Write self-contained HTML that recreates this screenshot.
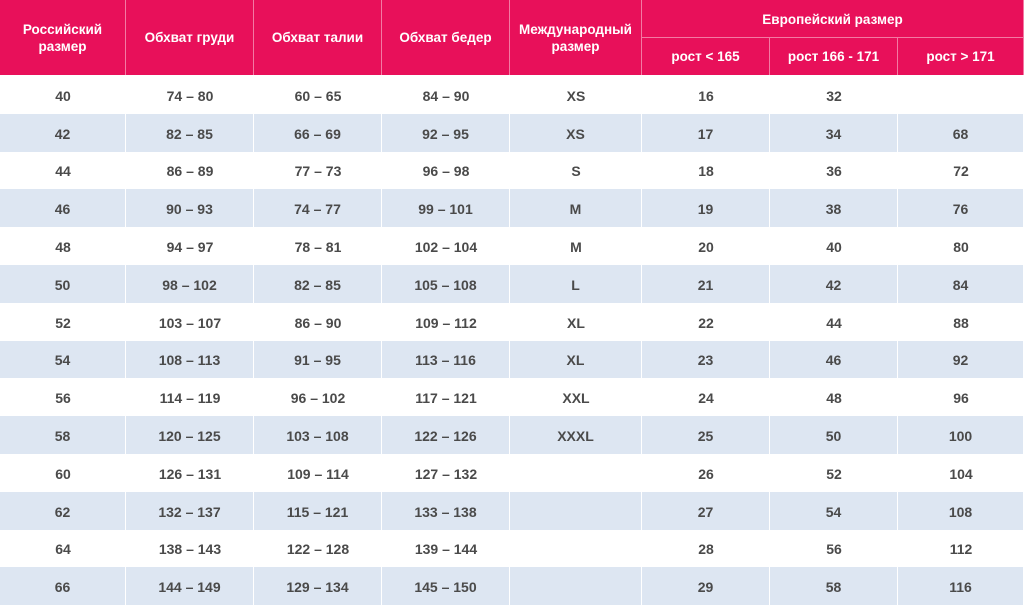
<!DOCTYPE html>
<html><head><meta charset="utf-8"><style>
body{margin:0;width:1024px;height:606px;overflow:hidden;background:#fff;font-family:"Liberation Sans",Arial,sans-serif;}
.c{position:absolute;display:flex;align-items:center;justify-content:center;text-align:center;font-weight:bold;box-sizing:border-box;}
.h{background:#e8105a;color:#fff;font-size:13.5px;line-height:17px;border-right:1px solid #f37aa3;}
.r{color:#4a4a4a;font-size:14px;padding-top:1px;}
.b{background:#dde6f2;border-right:1px solid #fff;}
</style></head><body>
<div id="t"></div>
<script>
var X=[0,126,254,382,510,642,770,898,1024];
var h='';
function cell(x,y,w,hh,cls,txt){h+='<div class="c '+cls+'" style="left:'+x+'px;top:'+y+'px;width:'+w+'px;height:'+hh+'px">'+txt+'</div>';}
var H=['Российский<br>размер','Обхват груди','Обхват талии','Обхват бедер','Международный<br>размер'];
for(var i=0;i<5;i++)cell(X[i],0,X[i+1]-X[i],75,'h',H[i]);
cell(642,0,382,38,'h','Европейский размер');
h+='<div style="position:absolute;left:642px;top:37px;width:382px;height:1px;background:#f37aa3"></div>';
var S=['рост &lt; 165','рост 166 - 171','рост &gt; 171'];
for(var i=0;i<3;i++)cell(X[5+i],38,X[6+i]-X[5+i],37,'h',S[i]);
var D=[
['40','74 – 80','60 – 65','84 – 90','XS','16','32',''],
['42','82 – 85','66 – 69','92 – 95','XS','17','34','68'],
['44','86 – 89','77 – 73','96 – 98','S','18','36','72'],
['46','90 – 93','74 – 77','99 – 101','M','19','38','76'],
['48','94 – 97','78 – 81','102 – 104','M','20','40','80'],
['50','98 – 102','82 – 85','105 – 108','L','21','42','84'],
['52','103 – 107','86 – 90','109 – 112','XL','22','44','88'],
['54','108 – 113','91 – 95','113 – 116','XL','23','46','92'],
['56','114 – 119','96 – 102','117 – 121','XXL','24','48','96'],
['58','120 – 125','103 – 108','122 – 126','XXXL','25','50','100'],
['60','126 – 131','109 – 114','127 – 132','','26','52','104'],
['62','132 – 137','115 – 121','133 – 138','','27','54','108'],
['64','138 – 143','122 – 128','139 – 144','','28','56','112'],
['66','144 – 149','129 – 134','145 – 150','','29','58','116']];
for(var r=0;r<14;r++){var y=Math.round(76+r*37.8),y2=Math.round(76+(r+1)*37.8);
for(var i=0;i<8;i++)cell(X[i],y,X[i+1]-X[i],y2-y,'r'+(r%2?' b':''),D[r][i]);}
document.getElementById('t').innerHTML=h;
</script>
</body></html>
